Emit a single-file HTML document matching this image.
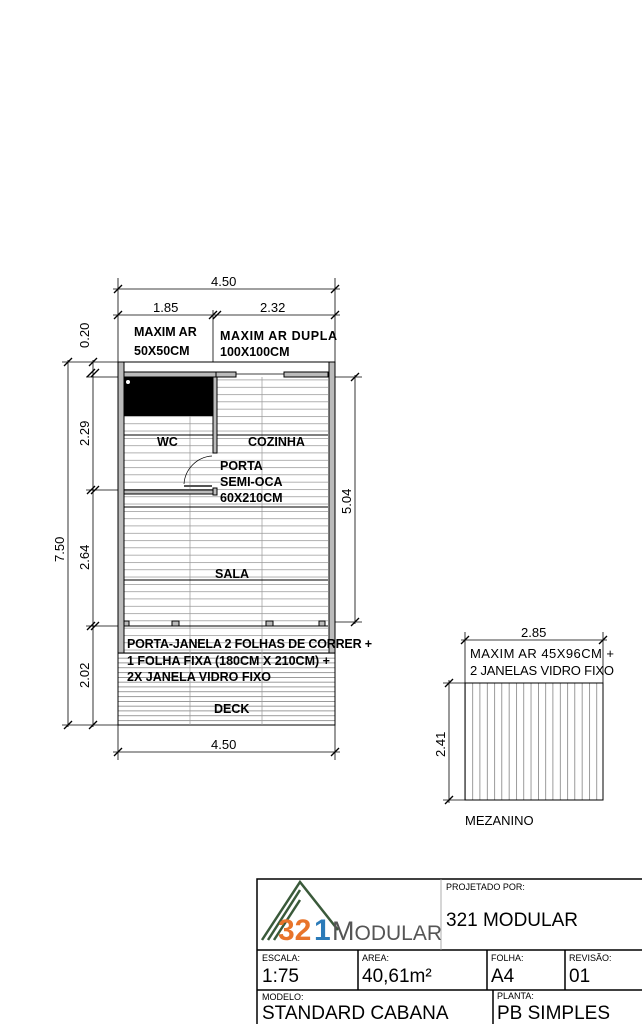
<!DOCTYPE html>
<html><head><meta charset="utf-8"><style>
body{margin:0;background:#fff}
svg{display:block;font-family:"Liberation Sans",sans-serif}
.b{font-weight:bold;font-size:12.5px}
</style></head><body>
<svg width="642" height="1024" viewBox="0 0 642 1024" xmlns="http://www.w3.org/2000/svg">
<defs>
<pattern id="pl" x="0" y="0" width="10" height="7.3" patternUnits="userSpaceOnUse"><line x1="0" y1="0.3" x2="10" y2="0.3" stroke="#888" stroke-width="0.7"/></pattern>
<pattern id="dk" x="0" y="653" width="10" height="4.8" patternUnits="userSpaceOnUse"><line x1="0" y1="0.3" x2="10" y2="0.3" stroke="#666" stroke-width="0.7"/></pattern>
<pattern id="mz" x="465" y="0" width="7.3" height="10" patternUnits="userSpaceOnUse"><line x1="0.3" y1="0" x2="0.3" y2="10" stroke="#666" stroke-width="0.7"/></pattern>
</defs>
<g stroke="#000" stroke-width="0.8" fill="none">
<line x1="118" y1="278" x2="118" y2="362"/><line x1="335" y1="278" x2="335" y2="362"/>
<line x1="113" y1="289" x2="340" y2="289"/>
<line x1="114" y1="293" x2="122" y2="285" stroke-width="1.3"/><line x1="331" y1="293" x2="339" y2="285" stroke-width="1.3"/>
<line x1="113" y1="315" x2="340" y2="315"/><line x1="213" y1="310" x2="213" y2="362"/>
<line x1="114" y1="319" x2="122" y2="311" stroke-width="1.3"/><line x1="209" y1="319" x2="217" y2="311" stroke-width="1.3"/><line x1="213" y1="319" x2="221" y2="311" stroke-width="1.3"/><line x1="331" y1="319" x2="339" y2="311" stroke-width="1.3"/>
<line x1="68" y1="360" x2="68" y2="727"/><line x1="93" y1="360" x2="93" y2="727"/>
<line x1="62" y1="362" x2="118" y2="362"/><line x1="86" y1="377" x2="124" y2="377"/><line x1="86" y1="490" x2="124" y2="490"/><line x1="86" y1="626" x2="124" y2="626"/><line x1="62" y1="725" x2="118" y2="725"/>
<g stroke-width="1.3">
<line x1="64" y1="366" x2="72" y2="358"/><line x1="89" y1="366" x2="97" y2="358"/>
<line x1="87" y1="377" x2="95" y2="369"/><line x1="91" y1="377" x2="99" y2="369"/>
<line x1="87" y1="494" x2="95" y2="486"/><line x1="91" y1="494" x2="99" y2="486"/>
<line x1="87" y1="630" x2="95" y2="622"/><line x1="91" y1="630" x2="99" y2="622"/>
<line x1="64" y1="729" x2="72" y2="721"/><line x1="89" y1="729" x2="97" y2="721"/>
</g>
<line x1="355" y1="375" x2="355" y2="624"/><line x1="335" y1="377" x2="362" y2="377"/><line x1="335" y1="622" x2="362" y2="622"/>
<line x1="351" y1="381" x2="359" y2="373" stroke-width="1.3"/><line x1="351" y1="626" x2="359" y2="618" stroke-width="1.3"/>
<line x1="118" y1="725" x2="118" y2="760"/><line x1="335" y1="725" x2="335" y2="760"/>
<line x1="113" y1="752" x2="340" y2="752"/>
<line x1="114" y1="756" x2="122" y2="748" stroke-width="1.3"/><line x1="331" y1="756" x2="339" y2="748" stroke-width="1.3"/>
</g>
<rect x="124" y="377" width="204" height="249" fill="url(#pl)"/>
<rect x="118" y="653" width="217" height="72" fill="url(#dk)" stroke="#000" stroke-width="1"/>
<rect x="124" y="626" width="204" height="27" fill="url(#pl)"/>
<g stroke="#999" stroke-width="0.7"><line x1="190" y1="377" x2="190" y2="725"/><line x1="262" y1="377" x2="262" y2="725"/></g>
<g stroke="#000" stroke-width="1">
<line x1="124" y1="435" x2="328" y2="435"/><line x1="124" y1="507" x2="328" y2="507"/><line x1="124" y1="580" x2="328" y2="580"/>
</g>
<g stroke="#000" stroke-width="1" fill="#bbb">
<rect x="118" y="362" width="6" height="291"/><rect x="329" y="362" width="6" height="291"/>
<rect x="124" y="372" width="92" height="5"/><rect x="284" y="372" width="44" height="5"/><rect x="216" y="372" width="20" height="5"/>
<rect x="213" y="377" width="4" height="76"/><rect x="213" y="488" width="4" height="7"/>
<rect x="124" y="490" width="89" height="4"/>
<rect x="124" y="621" width="5" height="5"/><rect x="172" y="621" width="7" height="5"/><rect x="266" y="621" width="7" height="5"/><rect x="319" y="621" width="6" height="5"/>
</g>
<line x1="124" y1="362" x2="335" y2="362" stroke="#000" stroke-width="1"/>
<line x1="236" y1="374" x2="284" y2="374" stroke="#000" stroke-width="0.7"/>
<line x1="124" y1="626" x2="328" y2="626" stroke="#000" stroke-width="1"/>
<rect x="124" y="377" width="89" height="39" fill="#000"/>
<circle cx="128" cy="382" r="2" fill="#fff"/>
<path d="M184 484 A30 30 0 0 1 212 456" stroke="#000" stroke-width="0.7" fill="none"/>
<line x1="184" y1="486" x2="212" y2="486" stroke="#555" stroke-width="2"/>
<text class="b" x="134" y="336">MAXIM AR</text><text class="b" x="134" y="355">50X50CM</text>
<text class="b" x="220" y="340" textLength="117">MAXIM AR DUPLA</text><text class="b" x="220" y="356">100X100CM</text>
<text class="b" x="157" y="446">WC</text><text class="b" x="248" y="446">COZINHA</text>
<text class="b" x="220" y="470">PORTA</text><text class="b" x="220" y="486">SEMI-OCA</text><text class="b" x="220" y="502">60X210CM</text>
<text class="b" x="215" y="578">SALA</text>
<text class="b" x="127" y="648" textLength="245">PORTA-JANELA 2 FOLHAS DE CORRER +</text>
<text class="b" x="127" y="665">1 FOLHA FIXA (180CM X 210CM) +</text>
<text class="b" x="127" y="681">2X JANELA VIDRO FIXO</text>
<text class="b" x="214" y="713">DECK</text>
<g font-size="13"><text x="211" y="286">4.50</text><text x="153" y="312">1.85</text><text x="260" y="312">2.32</text><text x="211" y="749">4.50</text>
<text transform="translate(89,348) rotate(-90)">0.20</text>
<text transform="translate(89,446) rotate(-90)">2.29</text>
<text transform="translate(89,570) rotate(-90)">2.64</text>
<text transform="translate(89,688) rotate(-90)">2.02</text>
<text transform="translate(64,562) rotate(-90)">7.50</text>
<text transform="translate(351,514) rotate(-90)">5.04</text>
<text x="521" y="637">2.85</text>
<text transform="translate(445,757) rotate(-90)">2.41</text>
<text x="470" y="658" textLength="144">MAXIM AR 45X96CM +</text>
<text x="470" y="675" textLength="144">2 JANELAS VIDRO FIXO</text>
<text x="465" y="825">MEZANINO</text></g>
<rect x="465" y="683" width="138" height="117" fill="url(#mz)" stroke="#000" stroke-width="1"/>
<g stroke="#000" stroke-width="0.8">
<line x1="465" y1="632" x2="465" y2="683"/><line x1="603" y1="632" x2="603" y2="683"/><line x1="461" y1="640" x2="607" y2="640"/>
<line x1="461" y1="644" x2="469" y2="636" stroke-width="1.3"/><line x1="599" y1="644" x2="607" y2="636" stroke-width="1.3"/>
<line x1="449" y1="680" x2="449" y2="803"/><line x1="443" y1="683" x2="465" y2="683"/><line x1="443" y1="800" x2="465" y2="800"/>
<line x1="445" y1="687" x2="453" y2="679" stroke-width="1.3"/><line x1="445" y1="804" x2="453" y2="796" stroke-width="1.3"/>
</g>
<g stroke="#000" stroke-width="1.5" fill="none">
<rect x="257" y="879" width="390" height="150"/>
<line x1="257" y1="950" x2="642" y2="950"/><line x1="257" y1="990" x2="642" y2="990"/>
<line x1="358" y1="950" x2="358" y2="990"/><line x1="487" y1="950" x2="487" y2="990"/><line x1="565" y1="950" x2="565" y2="990"/>
<line x1="493" y1="990" x2="493" y2="1024"/>
</g>
<line x1="441" y1="879" x2="441" y2="950" stroke="#999" stroke-width="0.8"/>
<g stroke="#3a5a3a" stroke-width="2.5" fill="none"><path d="M262 940 L300 882 L338 930"/><path d="M268 940 L300 890"/><path d="M274 940 L300 900"/></g>
<text x="278" y="940" font-size="30" font-weight="bold" fill="#e8742a">32</text>
<text x="314" y="940" font-size="30" font-weight="bold" fill="#2b7bb9">1</text>
<text x="332" y="940" font-size="27" fill="#555">M<tspan font-size="21">ODULAR</tspan></text>
<g font-size="9"><text x="446" y="890">PROJETADO POR:</text><text x="262" y="961">ESCALA:</text><text x="362" y="961">AREA:</text><text x="491" y="961">FOLHA:</text><text x="569" y="961">REVISÃO:</text><text x="262" y="1000">MODELO:</text><text x="497" y="999">PLANTA:</text></g>
<g font-size="19"><text x="446" y="926">321 MODULAR</text><text x="262" y="982">1:75</text><text x="362" y="982">40,61m²</text><text x="491" y="982">A4</text><text x="569" y="982">01</text><text x="262" y="1019">STANDARD CABANA</text><text x="497" y="1019">PB SIMPLES</text></g>
</svg>
</body></html>
